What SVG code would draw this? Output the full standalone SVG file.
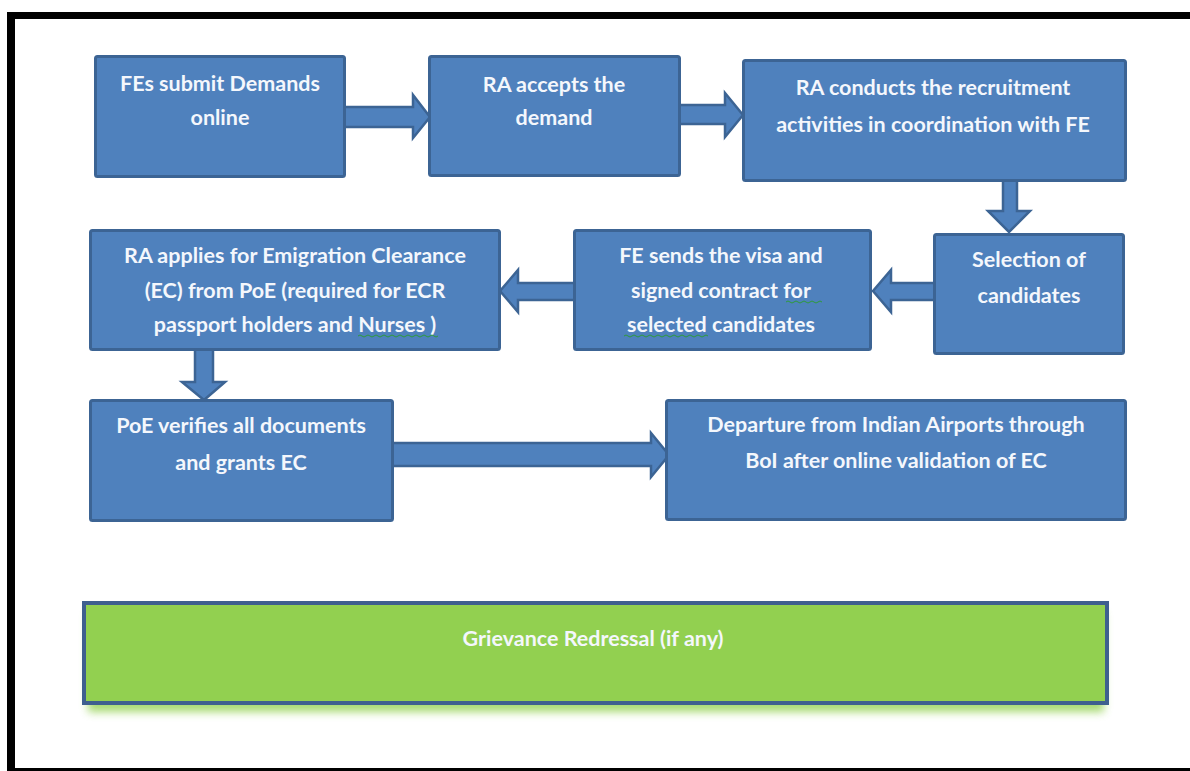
<svg xmlns="http://www.w3.org/2000/svg" width="1190" height="771" viewBox="0 0 1190 771">
<style>
.box{fill:#4f81bd;stroke:#3c6494;stroke-width:3}
.arr{fill:#4f81bd;stroke:#3c6494;stroke-width:2.5;stroke-linejoin:miter}
.t{font-family:Lato,"Liberation Sans",sans-serif;font-weight:bold;font-size:21.5px;fill:#f4f7fc;text-anchor:middle}
.sq{fill:none;stroke:#2e9b3c;stroke-width:1}
</style>
<defs>
<filter id="glow" x="-5%" y="-20%" width="110%" height="160%">
<feGaussianBlur stdDeviation="4"/>
</filter>
</defs>
<rect width="1190" height="771" fill="#ffffff"/>
<g id="frame" fill="#000000">
<rect x="7" y="12" width="1183" height="7"/>
<rect x="7" y="12" width="8" height="759"/>
<rect x="7" y="768" width="1183" height="3"/>
</g>
<g id="connectors">
<polygon class="arr" points="343,107 413,107 413,95 430,117 413,138 413,127 343,127"/>
<polygon class="arr" points="679,105 725,105 725,93 743,115 725,137 725,124 679,124"/>
<polygon class="arr" points="1003,180 1017,180 1017,211 1030,211 1009,232 988,211 1003,211"/>
<polygon class="arr" points="935,283 891,283 891,270 873,291 891,312 891,300 935,300"/>
<polygon class="arr" points="575,283 518,283 518,270 500,291 518,312 518,300 575,300"/>
<polygon class="arr" points="195,349 213,349 213,382 225,382 204,400 182,382 195,382"/>
<polygon class="arr" points="392,443 651,443 651,433 669,455 651,477 651,466 392,466"/>
</g>
<g id="n1">
<rect class="box" x="95.5" y="56.5" width="249" height="120" rx="2"/>
<text class="t" x="220" y="91">FEs submit Demands</text>
<text class="t" x="220" y="125">online</text>
</g>
<g id="n2">
<rect class="box" x="429.5" y="56.5" width="250" height="119" rx="2"/>
<text class="t" x="554" y="92">RA accepts the</text>
<text class="t" x="554" y="125">demand</text>
</g>
<g id="n3">
<rect class="box" x="743.5" y="60.5" width="382" height="120" rx="2"/>
<text class="t" x="933" y="95">RA conducts the recruitment</text>
<text class="t" x="933" y="132">activities in coordination with FE</text>
</g>
<g id="n4">
<rect class="box" x="934.5" y="234.5" width="189" height="119" rx="2"/>
<text class="t" x="1029" y="267">Selection of</text>
<text class="t" x="1029" y="303">candidates</text>
</g>
<g id="n5">
<rect class="box" x="574.5" y="230.5" width="296" height="119" rx="2"/>
<text class="t" x="721" y="263">FE sends the visa and</text>
<text class="t" x="721" y="298">signed contract for</text>
<text class="t" x="721" y="332">selected candidates</text>
<path class="sq" d="M786,302 q2,-2 4,0 t4,0 t4,0 t4,0 t4,0 t4,0 t4,0 t4,0 t4,0"/>
<path class="sq" d="M624,336 q2,-2 4,0 t4,0 t4,0 t4,0 t4,0 t4,0 t4,0 t4,0 t4,0 t4,0 t4,0 t4,0 t4,0 t4,0 t4,0 t4,0 t4,0 t4,0 t4,0 t4,0 t4,0"/>
</g>
<g id="n6">
<rect class="box" x="90.5" y="230.5" width="409" height="119" rx="2"/>
<text class="t" x="295" y="263">RA applies for Emigration Clearance</text>
<text class="t" x="295" y="298">(EC) from PoE (required for ECR</text>
<text class="t" x="295" y="332">passport holders and Nurses )</text>
<path class="sq" d="M358,336 q2,-2 4,0 t4,0 t4,0 t4,0 t4,0 t4,0 t4,0 t4,0 t4,0 t4,0 t4,0 t4,0 t4,0 t4,0 t4,0 t4,0 t4,0 t4,0 t4,0 t4,0"/>
</g>
<g id="n7">
<rect class="box" x="90.5" y="400.5" width="302" height="120" rx="2"/>
<text class="t" x="241" y="433">PoE verifies all documents</text>
<text class="t" x="241" y="470">and grants EC</text>
</g>
<g id="n8">
<rect class="box" x="666.5" y="400.5" width="459" height="119" rx="2"/>
<text class="t" x="896" y="432">Departure from Indian Airports through</text>
<text class="t" x="896" y="468">BoI after online validation of EC</text>
</g>
<g id="n9">
<rect x="88" y="612" width="1016" height="100" fill="#92d050" opacity="0.8" filter="url(#glow)"/>
<rect x="84" y="603" width="1023" height="100" fill="#92d050" stroke="#3e5f8f" stroke-width="4"/>
<text class="t" x="593" y="646">Grievance Redressal (if any)</text>
</g>
</svg>
